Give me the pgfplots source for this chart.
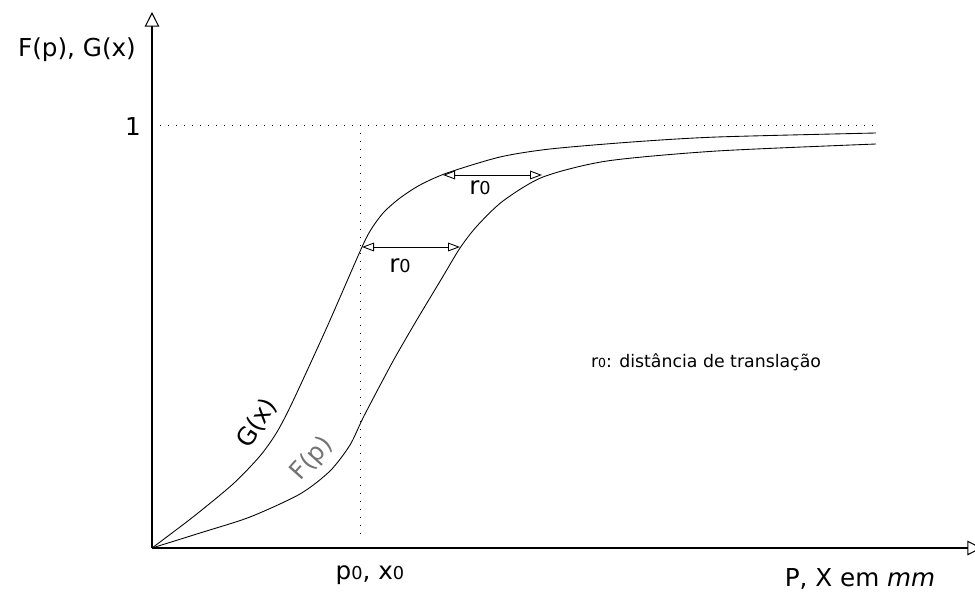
\documentclass[border=0pt]{standalone}
\usepackage{fontspec}
\setmainfont{DejaVu Sans}
\usepackage{pgfplots}
\pgfplotsset{compat=1.18}
\usetikzlibrary{arrows.meta}
\newcommand{\zr}{\scalebox{0.72}{0}}
\begin{document}
\begin{tikzpicture}[x=0.75pt,y=0.75pt]
\useasboundingbox (0,0) rectangle (975,594);
\begin{axis}[
  at={(114pt,34.5pt)}, anchor=south west,
  scale only axis, x=0.75pt, y=0.75pt,
  xmin=0, xmax=830, ymin=0, ymax=536,
  axis lines=left,
  axis line style={line width=0.8pt, -{Triangle[open,length=11pt,width=11pt]}},
  ticks=none, clip=false,
]
% dotted guides
\addplot[black, line width=0.7pt, dash pattern=on 0.7pt off 5.3pt] coordinates {(0,423) (724,423)};
\addplot[black, line width=0.7pt, dash pattern=on 0.7pt off 5.3pt] coordinates {(208,423) (208,8)};
% G(x)
\addplot[black, line width=0.65pt, smooth, tension=0.45] coordinates {
 (0,0) (41,31) (81,64) (108,92) (125,116) (141,147) (175,221) (210,301) (220,320) (232,336) (248,350) (268,363) (295,375) (348,391) (398,399) (480,406) (565,411) (724,415)};
% F(p)
\addplot[black, line width=0.65pt, smooth, tension=0.45] coordinates {
 (0,0) (48,15) (98,31) (148,54) (178,77) (198,103) (212,132) (240,185) (263,225) (290,270) (308,300) (325,322) (351,347) (391,371) (455,387) (565,397) (724,404)};
% r0 arrows
\addplot[black, line width=0.65pt, {Triangle[open,length=9pt,width=6.5pt]}-{Triangle[open,length=9pt,width=6.5pt]}] coordinates {(210,301) (308,301)};
\addplot[black, line width=0.65pt, {Triangle[open,length=9pt,width=6.5pt]}-{Triangle[open,length=9pt,width=6.5pt]}] coordinates {(291,373) (390,373)};
\end{axis}
\node[font=\fontsize{18.5}{20}\selectfont] at (77,544) {F(p), G(x)};
\node[font=\fontsize{18.5}{20}\selectfont] at (133,467) {1};
\node[font=\fontsize{18.5}{20}\selectfont] at (370,19) {p\zr, x\zr};
\node[font=\fontsize{18.5}{20}\selectfont] at (860,15) {P, X em \textit{mm}};
\node[font=\fontsize{18.5}{20}\selectfont] at (480,406) {r\zr};
\node[font=\fontsize{18.5}{20}\selectfont] at (400,328) {r\zr};
\node[font=\fontsize{13}{15}\selectfont] at (706,232) {r\zr: distância de translação};
\node[font=\fontsize{18.5}{20}\selectfont, rotate=57] at (257,171) {G(x)};
\node[font=\fontsize{18.5}{20}\selectfont, rotate=48, text=black!55] at (312,135) {F(p)};
\end{tikzpicture}
\end{document}
